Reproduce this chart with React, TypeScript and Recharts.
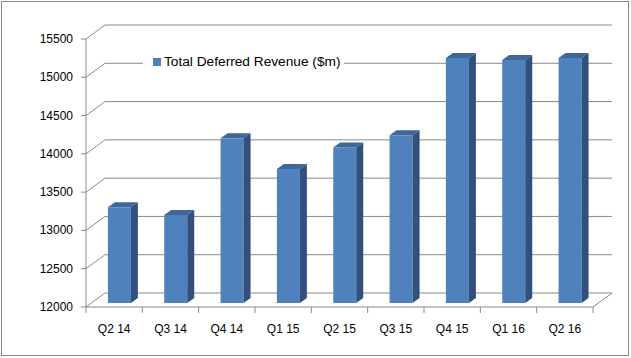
import { BarChart, Bar, XAxis, YAxis, CartesianGrid, Legend } from 'recharts';

const categories = ['Q2 14', 'Q3 14', 'Q4 14', 'Q1 15', 'Q2 15', 'Q3 15', 'Q4 15', 'Q1 16', 'Q2 16'];
const deferredRevenue = [13250, 13150, 14150, 13750, 14030, 14190, 15200, 15175, 15200];
const yTicks = [12000, 12500, 13000, 13500, 14000, 14500, 15000, 15500];

const data = categories.map((quarter, i) => ({ quarter, value: deferredRevenue[i] }));

// chart frame (bar plane is the recharts plot area, front/back walls are offset from it)
const W = 631;
const H = 358;
const PLOT_LEFT = 91;
const PLOT_RIGHT = 598;
const PLOT_TOP = 35;
const PLOT_BOTTOM = 303;
const Y_AXIS_W = 60;
const X_AXIS_H = 30;
const FRONT = { dx: -5, dy: 4 };
const BACK = { dx: 14, dy: -10 };
const BAND = (PLOT_RIGHT - PLOT_LEFT) / categories.length;
const GRID = '#8a8a8a';
const FONT = '"Liberation Sans", Arial, sans-serif';

const GridLine = (props: any) => {
  const { y1, x1, x2 } = props;
  const d = `M${x1 + FRONT.dx} ${y1 + FRONT.dy} L${x1 + BACK.dx} ${y1 + BACK.dy} L${x2 + BACK.dx} ${y1 + BACK.dy}`;
  return <path key={`g-${props.index}`} d={d} stroke={GRID} strokeWidth={1} fill="none" />;
};

const YTick = (props: any) => {
  const { y, payload } = props;
  const fx = PLOT_LEFT + FRONT.dx;
  const fy = y + FRONT.dy;
  return (
    <g>
      <line x1={fx - 5} x2={fx} y1={fy} y2={fy} stroke={GRID} />
      <text x={fx - 13} y={fy + 4} textAnchor="end" fontSize={12} fontFamily={FONT} fill="#000">
        {payload.value}
      </text>
    </g>
  );
};

const XTick = (props: any) => {
  const { x, payload, index } = props;
  const cx = x + FRONT.dx;
  const fy = PLOT_BOTTOM + FRONT.dy;
  const left = cx - BAND / 2;
  const right = cx + BAND / 2;
  const last = index === categories.length - 1;
  return (
    <g>
      <line x1={left} x2={left} y1={fy} y2={fy + 6} stroke={GRID} />
      {last && <line x1={right} x2={right} y1={fy} y2={fy + 6} stroke={GRID} />}
      {last && (
        <line x1={right} y1={fy} x2={PLOT_RIGHT + BACK.dx} y2={PLOT_BOTTOM + BACK.dy} stroke={GRID} />
      )}
      <text x={cx} y={fy + 26} textAnchor="middle" fontSize={12} fontFamily={FONT} fill="#000">
        {payload.value}
      </text>
    </g>
  );
};

const Bar3D = (props: any) => {
  const { x, y, width, height } = props;
  if (!height || height <= 0) return null;
  const dx = 7;
  const dy = 5;
  const top = `M${x} ${y} L${x + dx} ${y - dy} L${x + width + dx} ${y - dy} L${x + width} ${y} Z`;
  const side = `M${x + width} ${y} L${x + width + dx} ${y - dy} L${x + width + dx} ${y + height - dy} L${x + width} ${y + height} Z`;
  return (
    <g>
      <rect x={x} y={y} width={width} height={height} fill="#4F81BD" />
      <path d={top} fill="#3E679A" />
      <path d={side} fill="#31517C" />
    </g>
  );
};

const LegendBox = () => (
  <div
    style={{
      display: 'flex',
      alignItems: 'center',
      background: '#fff',
      padding: '0 3px 0 10px',
      fontFamily: FONT,
      fontSize: 13.7,
      color: '#000',
      whiteSpace: 'nowrap',
      lineHeight: '18px',
    }}
  >
    <span style={{ display: 'inline-block', width: 8, height: 8, background: '#4F81BD', marginRight: 3 }} />
    Total Deferred Revenue ($m)
  </div>
);

export default function App() {
  return (
    <div style={{ position: 'absolute', left: 0, top: 0, width: W, height: H, background: '#fff' }}>
      <div
        style={{
          position: 'absolute',
          left: 1,
          top: 1,
          width: 628,
          height: 355,
          boxSizing: 'border-box',
          border: '1px solid #868686',
        }}
      />
      <div style={{ position: 'absolute', left: 0, top: 0 }}>
        <BarChart
          width={W}
          height={H}
          data={data}
          margin={{
            top: PLOT_TOP,
            right: W - PLOT_RIGHT,
            bottom: H - PLOT_BOTTOM - X_AXIS_H,
            left: PLOT_LEFT - Y_AXIS_W,
          }}
          barCategoryGap="30%"
        >
          <CartesianGrid vertical={false} horizontal={GridLine} />
          <XAxis
            dataKey="quarter"
            height={X_AXIS_H}
            interval={0}
            tickLine={false}
            axisLine={{ stroke: GRID, transform: `translate(${FRONT.dx},${FRONT.dy})` }}
            tick={<XTick />}
          />
          <YAxis
            type="number"
            domain={[12000, 15500]}
            ticks={yTicks}
            interval={0}
            width={Y_AXIS_W}
            tickLine={false}
            axisLine={{ stroke: GRID, transform: `translate(${FRONT.dx},${FRONT.dy})` }}
            tick={<YTick />}
          />
          <Legend
            layout="horizontal"
            verticalAlign="middle"
            align="center"
            content={<LegendBox />}
            wrapperStyle={{ left: 143, top: 53, width: 'auto' }}
          />
          <Bar dataKey="value" shape={<Bar3D />} isAnimationActive={false} />
        </BarChart>
      </div>
    </div>
  );
}
